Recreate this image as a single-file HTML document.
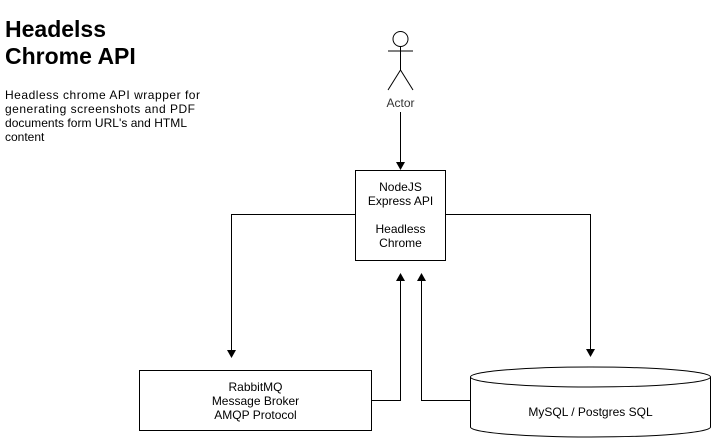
<!DOCTYPE html>
<html><head><style>
body{margin:0;background:#fff;width:711px;height:441px;overflow:hidden;font-family:"Liberation Sans",Arial,sans-serif}
</style></head><body>
<svg width="711" height="441" xmlns="http://www.w3.org/2000/svg" font-family="Liberation Sans, Arial, sans-serif">
<text x="5" y="37" font-size="23" font-weight="bold">Headelss</text>
<text x="5" y="64" font-size="23" font-weight="bold">Chrome API</text>
<text x="5" y="99" font-size="12" textLength="195">Headless chrome API wrapper for</text>
<text x="5" y="113" font-size="12" textLength="190">generating screenshots and PDF</text>
<text x="5" y="127" font-size="12" textLength="182">documents form URL's and HTML</text>
<text x="5" y="141" font-size="12">content</text>
<g stroke="#000" fill="none" stroke-width="1">
<circle cx="400.5" cy="39" r="7.5" fill="#fff"/>
<path d="M400.5 46.5V70M388 51H413M400.5 70L388 90M400.5 70L413 90"/>
<rect x="355.5" y="170.5" width="90" height="90" fill="#fff"/>
<rect x="139.5" y="370.5" width="232" height="60" fill="#fff"/>
<path d="M470.5 377 A120 10 0 0 1 710.5 377 V427 A120 10 0 0 1 470.5 427 Z" fill="#fff"/>
<path d="M470.5 377 A120 10 0 0 0 710.5 377"/>
<path d="M400.5 112V162"/>
<path d="M355 214.5H231.5V350"/>
<path d="M445 214.5H590.5V349"/>
<path d="M371.5 400.5H400.5V281"/>
<path d="M470.5 400.5H421.5V281"/>
</g>
<g fill="#000">
<path d="M396 162L400.5 170L405 162Z"/>
<path d="M227 350L231.5 358L236 350Z"/>
<path d="M586 349L590.5 357L595 349Z"/>
<path d="M396 281L400.5 273L405 281Z"/>
<path d="M417 281L421.5 273L426 281Z"/>
</g>
<g font-size="12" text-anchor="middle">
<text x="400.5" y="107" fill="#333">Actor</text>
<text x="400.5" y="191">NodeJS</text>
<text x="400.5" y="205">Express API</text>
<text x="400.5" y="233">Headless</text>
<text x="400.5" y="247">Chrome</text>
<text x="255.5" y="391">RabbitMQ</text>
<text x="255.5" y="405">Message Broker</text>
<text x="255.5" y="419">AMQP Protocol</text>
<text x="590.5" y="416">MySQL / Postgres SQL</text>
</g>
</svg>
</body></html>
